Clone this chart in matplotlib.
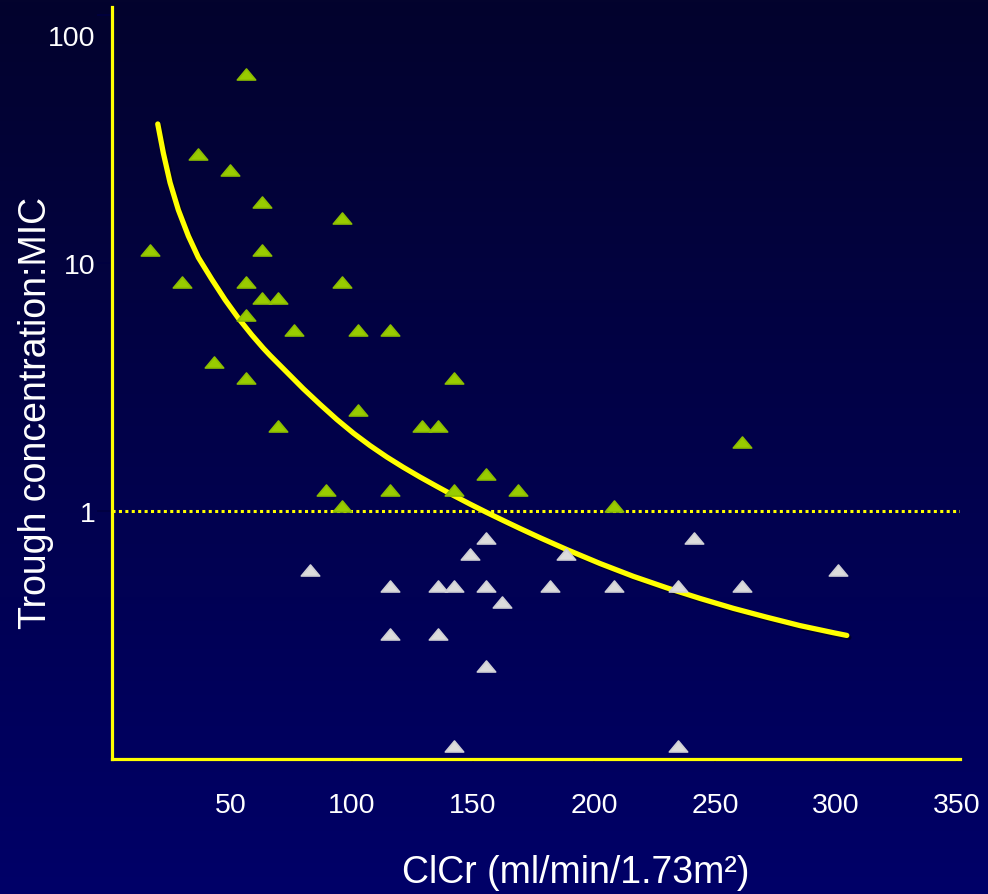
import numpy as np
import matplotlib
matplotlib.use("Agg")
import matplotlib.pyplot as plt
import matplotlib.transforms as mtransforms
from matplotlib.path import Path
from matplotlib.markers import MarkerStyle
import matplotlib.patheffects as pe

# ---------------- data ----------------
green_x = [16.5, 29.8, 36.4, 43.0, 49.6, 56.2, 56.2, 56.2, 56.2, 62.8, 62.8, 62.8,
           69.4, 69.4, 76.0, 89.3, 95.9, 95.9, 95.9, 102.5, 102.5, 115.7, 115.7,
           128.9, 135.5, 142.1, 142.1, 155.4, 168.6, 208.3, 261.2]
green_y = [11.3, 8.38, 27.5, 3.99, 23.7, 57.8, 8.38, 6.17, 3.44, 17.6, 11.3, 7.22,
           7.22, 2.20, 5.37, 1.215, 15.2, 8.38, 1.05, 5.37, 2.55, 5.37, 1.215,
           2.20, 2.20, 3.44, 1.215, 1.41, 1.215, 1.05, 1.90]

white_x = [82.6, 115.7, 115.7, 135.5, 135.5, 142.1, 142.1, 148.8, 155.4, 155.4,
           155.4, 162.0, 181.8, 188.4, 208.3, 234.7, 234.7, 241.3, 261.2, 300.8]
white_y = [0.578, 0.498, 0.319, 0.498, 0.319, 0.498, 0.113, 0.671, 0.778, 0.498,
           0.237, 0.430, 0.498, 0.671, 0.498, 0.498, 0.113, 0.778, 0.498, 0.578]

# fitted curve
curve_x = [19.71, 22.02, 24.79, 28.22, 32.36, 36.49, 42.02, 47.52, 53.02, 58.55,
           63.35, 66.12, 73.02, 79.88, 86.78, 93.68, 100.54, 107.44, 114.34,
           121.20, 128.10, 135.00, 141.86, 148.76, 155.66, 162.52, 169.42,
           177.69, 188.72, 202.48, 216.24, 230.04, 243.80, 257.56, 271.36,
           285.12, 298.88, 304.42]
curve_y = [36.35, 27.74, 21.10, 16.36, 12.85, 10.52, 8.60, 7.11, 5.99, 5.13,
           4.53, 4.24, 3.63, 3.11, 2.69, 2.34, 2.06, 1.835, 1.651,
           1.500, 1.370, 1.257, 1.156, 1.066, 0.986, 0.915, 0.850,
           0.780, 0.699, 0.614, 0.545, 0.490, 0.444, 0.405, 0.373,
           0.345, 0.323, 0.315]

x_ticks = [50, 100, 150, 200, 250, 300, 350]
y_ticks = [1, 10, 100]
y_tick_labels = ["1", "10", "100"]
threshold = 1.0

xlabel = "ClCr (ml/min/1.73m\u00b2)"
ylabel = "Trough concentration:MIC"

# ---------------- style ----------------
FONT = "Liberation Sans"
plt.rcParams["font.family"] = [FONT, "DejaVu Sans"]

W, H = 988, 895
fig = plt.figure(figsize=(W / 100, H / 100), dpi=100)

# background gradient
bg = fig.add_axes([0, 0, 1, 1], zorder=-10)
top = np.array([3, 3, 45]) / 255.0
bot = np.array([0, 0, 104]) / 255.0
t = np.linspace(0, 1, 256)[:, None]
grad = (top[None, :] * (1 - t) + bot[None, :] * t)[:, None, :]
bg.imshow(grad, aspect="auto", extent=[0, 1, 0, 1], origin="upper")
bg.set_axis_off()

left, right, bottom_px, top_px = 112, 960, 760, 8
ax = fig.add_axes([left / W, (H - bottom_px) / H, (right - left) / W,
                   (bottom_px - top_px) / H])
ax.set_facecolor("none")
ax.set_yscale("log")
ax.set_xlim(0.8, 351.2)
ax.set_ylim(0.1, 107.7)

# marker: flattened triangle with rounded corners
tri_path = Path([(-1, -0.6), (0, 0.6), (1, -0.6), (-1, -0.6)],
                [Path.MOVETO, Path.LINETO, Path.LINETO, Path.CLOSEPOLY])
tri = MarkerStyle(tri_path, joinstyle="round")

yellow = "#FFFF00"

ax.axhline(threshold, color=yellow, lw=2.2, linestyle=(0, (1, 1.1)), zorder=2)

ax.plot(curve_x, curve_y, color=yellow, lw=3.8, solid_capstyle="round",
        solid_joinstyle="round", zorder=3,
        path_effects=[pe.SimpleLineShadow(offset=(1.5, -1.5), shadow_color="black",
                                          alpha=0.45),
                      pe.Normal()])

ax.plot(green_x, green_y, linestyle="none", marker=tri, markersize=13.2,
        markerfacecolor="#99CC00", markeredgecolor="#8DBE00", markeredgewidth=1.2,
        clip_on=False, zorder=4)
ax.plot(white_x, white_y, linestyle="none", marker=tri, markersize=13.2,
        markerfacecolor="#DCDCDC", markeredgecolor="#CFCFD4", markeredgewidth=1.2,
        clip_on=False, zorder=4)

# spines
for s in ["top", "right"]:
    ax.spines[s].set_visible(False)
for s in ["left", "bottom"]:
    ax.spines[s].set_color(yellow)
    ax.spines[s].set_linewidth(2.3)
    ax.spines[s].set_capstyle("projecting")

ax.set_xticks(x_ticks)
ax.set_xticklabels([str(v) for v in x_ticks])
ax.set_yticks(y_ticks)
ax.set_yticklabels(y_tick_labels)
ax.yaxis.set_minor_locator(matplotlib.ticker.NullLocator())
ax.tick_params(axis="x", labelcolor="white", labelsize=20.5, length=2, width=1.2,
               pad=22, color="#000040")
ax.tick_params(axis="y", labelcolor="white", labelsize=20.5, length=11, width=1.2,
               pad=1, color="#000040")

# the top label sits a little below its tick in the reference
top_tick = ax.yaxis.get_major_ticks()[2]
top_tick.label1.set_transform(top_tick.label1.get_transform() +
                              mtransforms.ScaledTranslation(0, -0.2, fig.dpi_scale_trans))

fig.text(576 / W, (H - 873) / H, xlabel, color="white", fontsize=27,
         ha="center", va="center", family=[FONT, "DejaVu Sans"])
fig.text(36 / W, (H - 413) / H, ylabel, color="white", fontsize=27,
         ha="center", va="center", rotation=90, family=[FONT, "DejaVu Sans"])

fig.savefig("out.png", dpi=100)
